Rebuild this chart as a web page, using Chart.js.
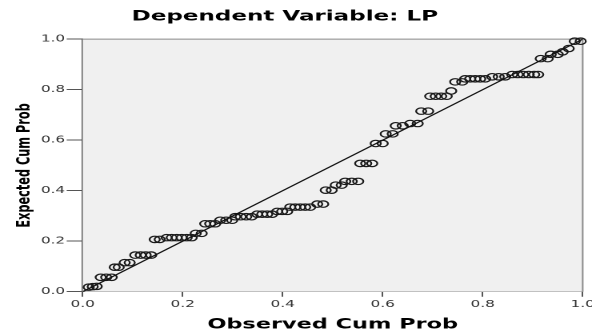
<!DOCTYPE html>
<html><head><meta charset="utf-8">
<script src="https://cdn.jsdelivr.net/npm/chart.js@4.4.1/dist/chart.umd.min.js"></script>
<style>
html,body{margin:0;padding:0;background:#fff;overflow:hidden;width:592px;height:332px;}
#wrap{position:absolute;left:0;top:0;width:380px;height:332px;transform:scaleX(1.6);transform-origin:0 0;}
</style></head><body>
<div id="wrap"><canvas id="c"></canvas></div>
<script>
// Observed cumulative probability (x) and expected cumulative probability (y)
const observedCumProb = [
0.012,0.02,0.028,
0.036,0.047,0.058,
0.064,0.072,
0.084,0.094,
0.105,0.116,0.126,0.137,
0.144,0.154,
0.168,0.178,0.188,0.198,0.208,0.218,
0.226,0.238,
0.245,0.255,0.265,
0.275,0.287,0.299,
0.305,0.316,0.327,0.338,
0.349,0.359,0.369,0.379,
0.389,0.399,0.409,
0.415,0.425,0.435,0.445,0.455,
0.469,0.481,
0.486,0.498,
0.506,0.518,
0.525,0.538,0.551,
0.555,0.567,0.579,
0.586,0.6,
0.606,0.62,
0.626,0.64,
0.655,0.67,
0.677,0.691,
0.695,0.706,0.717,0.728,
0.737,
0.745,0.759,
0.765,0.775,0.785,0.795,0.805,
0.819,0.832,0.845,
0.859,0.87,0.881,0.892,0.903,0.911,
0.916,0.93,
0.936,0.95,
0.96,
0.972,
0.984,0.996
];
const expectedCumProb = [
0.018,0.02,0.021,
0.057,0.057,0.057,
0.097,0.097,
0.115,0.115,
0.145,0.145,0.145,0.145,
0.207,0.207,
0.214,0.214,0.214,0.214,0.214,0.214,
0.231,0.231,
0.269,0.269,0.269,
0.283,0.283,0.283,
0.297,0.297,0.297,0.297,
0.307,0.307,0.307,0.307,
0.318,0.318,0.318,
0.335,0.335,0.335,0.335,0.335,
0.347,0.347,
0.402,0.402,
0.422,0.422,
0.437,0.437,0.437,
0.508,0.508,0.508,
0.587,0.587,
0.625,0.625,
0.657,0.657,
0.666,0.666,
0.715,0.715,
0.774,0.774,0.774,0.774,
0.795,
0.831,0.831,
0.843,0.843,0.843,0.843,0.843,
0.851,0.851,0.851,
0.86,0.86,0.86,0.86,0.86,0.86,
0.923,0.923,
0.94,0.94,
0.95,
0.963,
0.992,0.992
];
const refLineX = [0, 1];
const refLineY = [0, 1];
const xTickLabels = ['0.0','0.2','0.4','0.6','0.8','1.0'];
const yTickLabels = ['0.0','0.2','0.4','0.6','0.8','1.0'];

const points = observedCumProb.map((x, i) => ({x: x, y: expectedCumProb[i]}));
const refLine = refLineX.map((x, i) => ({x: x, y: refLineY[i]}));

const plotFrame = {
  id: 'plotFrame',
  beforeDatasetsDraw(chart) {
    const {ctx, chartArea: a} = chart;
    ctx.save();
    ctx.fillStyle = '#f0f0f0';
    ctx.fillRect(a.left, a.top, a.right - a.left, a.bottom - a.top);
    ctx.strokeStyle = '#8a8a8a';
    ctx.lineWidth = 1;
    ctx.beginPath();
    ctx.moveTo(a.left, a.top);
    ctx.lineTo(a.right, a.top);
    ctx.lineTo(a.right, a.bottom);
    ctx.stroke();
    ctx.restore();
  }
};

const tickFont = {family: 'DejaVu Sans', size: 9.5};

new Chart(document.getElementById('c'), {
  type: 'scatter',
  data: {
    datasets: [
      {
        type: 'scatter',
        data: points,
        pointStyle: 'circle',
        pointRadius: 3.2,
        pointBorderWidth: 1.15,
        borderColor: '#1a1a1a',
        backgroundColor: 'rgba(0,0,0,0)',
        clip: false,
        order: 2
      },
      {
        type: 'line',
        data: refLine,
        borderColor: '#111',
        borderWidth: 1.1,
        pointRadius: 0,
        fill: false,
        order: 1
      }
    ]
  },
  options: {
    responsive: true,
    maintainAspectRatio: false,
    animation: false,
    devicePixelRatio: 2,
    layout: {padding: {left: -8.2, right: 15.8, top: 0, bottom: 0}},
    plugins: {
      legend: {display: false},
      tooltip: {enabled: false},
      title: {
        display: true,
        text: 'Dependent Variable: LP',
        color: '#000',
        font: {family: 'DejaVu Sans', size: 14.4, weight: 'bold', lineHeight: 1.2},
        padding: {top: 8.1, bottom: 13.8}
      }
    },
    scales: {
      x: {
        type: 'linear',
        position: 'bottom',
        min: 0, max: 1,
        ticks: {
          stepSize: 0.2,
          autoSkip: false,
          maxRotation: 0,
          font: tickFont,
          color: '#333',
          padding: 2,
          callback: (v, i) => xTickLabels[i]
        },
        grid: {drawOnChartArea: false, drawTicks: true, tickLength: 5, color: '#555', lineWidth: 1},
        border: {display: true, color: '#555', width: 1},
        title: {
          display: true,
          text: 'Observed Cum Prob',
          color: '#000',
          font: {family: 'DejaVu Sans', size: 14, weight: 'bold', lineHeight: 1},
          padding: {top: 0, bottom: 0}
        },
        afterFit(s) { s.height = 40.3; }
      },
      y: {
        type: 'linear',
        position: 'left',
        min: 0, max: 1,
        ticks: {
          stepSize: 0.2,
          autoSkip: false,
          font: tickFont,
          color: '#333',
          padding: 1,
          callback: (v, i) => yTickLabels[i]
        },
        grid: {drawOnChartArea: false, drawTicks: true, tickLength: 10, color: '#555', lineWidth: 1},
        border: {display: true, color: '#555', width: 1},
        title: {
          display: true,
          text: 'Expected Cum Prob',
          color: '#000',
          font: {family: 'DejaVu Sans', size: 11.3, weight: 'bold', lineHeight: 1.2},
          padding: {top: 16.8, bottom: 0}
        },
        afterFit(s) { s.width = 59.9; }
      }
    }
  },
  plugins: [plotFrame]
});
</script>
</body></html>
